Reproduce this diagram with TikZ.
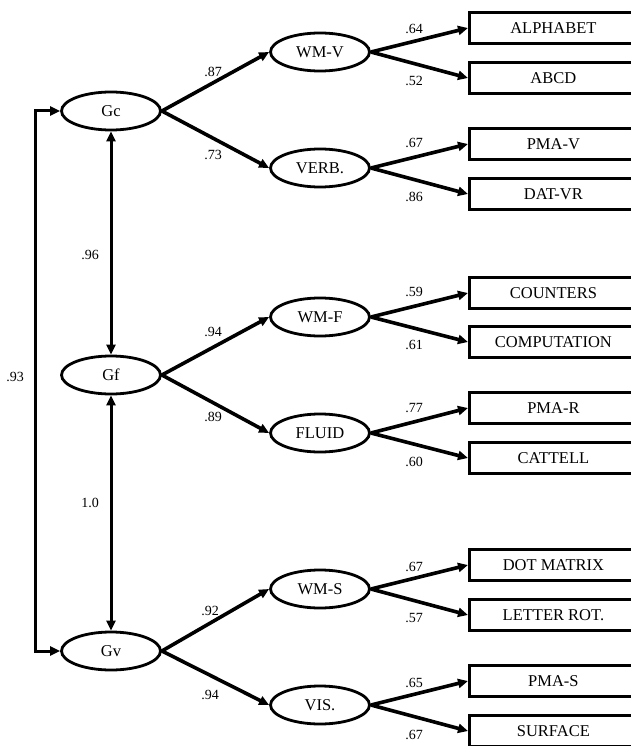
\documentclass[tikz,border=0pt]{standalone}
\usepackage{fontspec}
\setmainfont{Liberation Serif}
\usetikzlibrary{arrows.meta,shapes.geometric}
\begin{document}
\begin{tikzpicture}[x=1pt,y=-1pt,
  lat/.style={ellipse,draw,line width=2.8pt,minimum width=99pt,minimum height=38pt,inner sep=0pt,font=\fontsize{16.5}{18}\selectfont},
  obs/.style={rectangle,draw,line width=2.8pt,minimum width=168pt,minimum height=31pt,inner sep=0pt,anchor=west,font=\fontsize{16.5}{18}\selectfont},
  arr/.style={line width=3.6pt,-{Triangle[length=10pt,width=9pt]}},
  dbl/.style={line width=3pt,line join=miter,{Triangle[length=10pt,width=9pt]}-{Triangle[length=10pt,width=9pt]}},
  lab/.style={font=\fontsize{14}{15}\selectfont,inner sep=0pt}]
\useasboundingbox (0,0) rectangle (631,746);
\clip (0,0) rectangle (631,746);
% second-order factors
\node[lat] (Gc) at (111,111) {Gc};
\node[lat] (Gf) at (111,375) {Gf};
\node[lat] (Gv) at (111,651) {Gv};
% first-order factors
\node[lat] (wmv) at (320,52) {WM-V};
\node[lat] (verb) at (320,168) {VERB.};
\node[lat] (wmf) at (320,317) {WM-F};
\node[lat] (fluid) at (320,433) {FLUID};
\node[lat] (wms) at (320,589) {WM-S};
\node[lat] (vis) at (320,705) {VIS.};
% indicators
\node[obs] (alph) at (468,28) {ALPHABET};
\node[obs] (abcd) at (468,78) {ABCD};
\node[obs] (pmav) at (468,144) {PMA-V};
\node[obs] (datvr) at (468,194) {DAT-VR};
\node[obs] (count) at (468,293) {COUNTERS};
\node[obs] (comp) at (468,342) {COMPUTATION};
\node[obs] (pmar) at (468,408) {PMA-R};
\node[obs] (catt) at (468,458) {CATTELL};
\node[obs] (dotm) at (468,565) {DOT MATRIX};
\node[obs] (lrot) at (468,615) {LETTER ROT.};
\node[obs] (pmas) at (468,681) {PMA-S};
\node[obs] (surf) at (468,731) {SURFACE};
% second-order loadings
\draw[arr] (Gc.east) -- (wmv.west);
\draw[arr] (Gc.east) -- (verb.west);
\draw[arr] (Gf.east) -- (wmf.west);
\draw[arr] (Gf.east) -- (fluid.west);
\draw[arr] (Gv.east) -- (wms.west);
\draw[arr] (Gv.east) -- (vis.west);
% first-order loadings
\draw[arr] (wmv.east) -- (alph.west);
\draw[arr] (wmv.east) -- (abcd.west);
\draw[arr] (verb.east) -- (pmav.west);
\draw[arr] (verb.east) -- (datvr.west);
\draw[arr] (wmf.east) -- (count.west);
\draw[arr] (wmf.east) -- (comp.west);
\draw[arr] (fluid.east) -- (pmar.west);
\draw[arr] (fluid.east) -- (catt.west);
\draw[arr] (wms.east) -- (dotm.west);
\draw[arr] (wms.east) -- (lrot.west);
\draw[arr] (vis.east) -- (pmas.west);
\draw[arr] (vis.east) -- (surf.west);
% correlations
\draw[dbl] (Gc.south) -- (Gf.north);
\draw[dbl] (Gf.south) -- (Gv.north);
\coordinate (lt) at (35,111);
\coordinate (lb) at (35,651);
\draw[dbl] (Gc.west) -- (lt) -- (lb) -- (Gv.west);
% labels
\node[lab] (l1) at (213,72) {.87};
\node[lab] (l2) at (213,155) {.73};
\node[lab] (l3) at (213,332) {.94};
\node[lab] (l4) at (213,417) {.89};
\node[lab] (l5) at (210,611) {.92};
\node[lab] (l6) at (210,695) {.94};
\node[lab] (l7) at (90,255) {.96};
\node[lab] (l8) at (90,503) {1.0};
\node[lab] (l9) at (15,377) {.93};
\node[lab] (m1) at (414,29) {.64};
\node[lab] (m2) at (414,81) {.52};
\node[lab] (m3) at (414,143) {.67};
\node[lab] (m4) at (414,197) {.86};
\node[lab] (m5) at (414,292) {.59};
\node[lab] (m6) at (414,345) {.61};
\node[lab] (m7) at (414,408) {.77};
\node[lab] (m8) at (414,462) {.60};
\node[lab] (m9) at (414,567) {.67};
\node[lab] (m10) at (414,618) {.57};
\node[lab] (m11) at (414,683) {.65};
\node[lab] (m12) at (414,735) {.67};
\end{tikzpicture}
\end{document}
